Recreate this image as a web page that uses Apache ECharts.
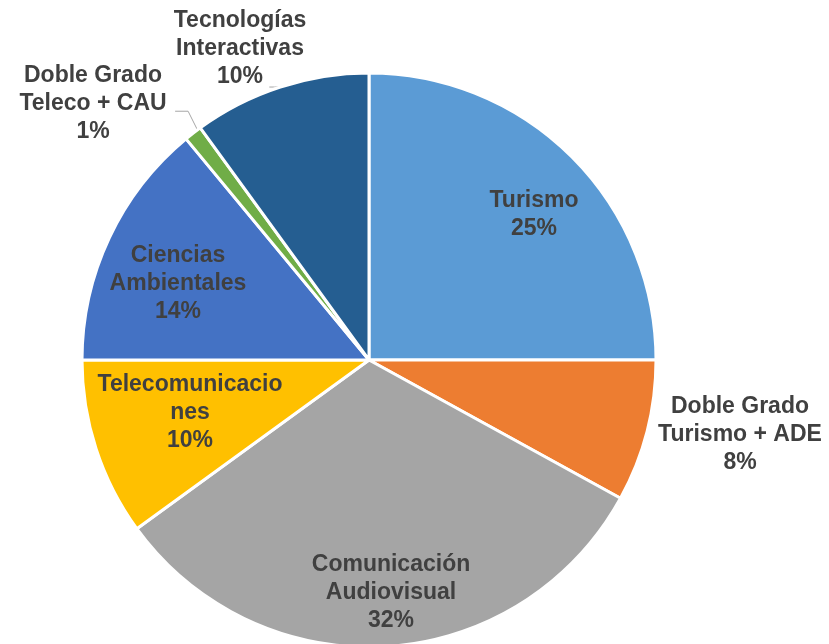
<!DOCTYPE html>
<html>
<head>
<meta charset="utf-8">
<script src="https://cdn.jsdelivr.net/npm/echarts@6/dist/echarts.min.js"></script>
<style>
  html, body { margin: 0; padding: 0; background: #fff; }
  #chart { width: 829px; height: 644px; }
</style>
</head>
<body>
<div id="chart"></div>
<script>
// categorias y valores (%)
const categories = ['Turismo', 'Doble Grado Turismo + ADE', 'Comunicación Audiovisual', 'Telecomunicaciones',
  'Ciencias Ambientales', 'Doble Grado Teleco + CAU', 'Tecnologías Interactivas'];
const values = [25, 8, 32, 10, 14, 1, 10];
// texto de las etiquetas, con los saltos de linea del original
const labelTexts = ['Turismo', 'Doble Grado\nTurismo + ADE', 'Comunicación\nAudiovisual', 'Telecomunicacio\nnes',
  'Ciencias\nAmbientales', 'Doble Grado\nTeleco + CAU', 'Tecnologías\nInteractivas'];
const colors = ['#5B9BD5', '#ED7D31', '#A5A5A5', '#FFC000', '#4472C4', '#70AD47', '#255E91'];

// posicion de cada etiqueta (centro del bloque de texto)
const labelPos = [[534, 215], [740, 435], [391, 593], [190, 413], [178, 284], [93, 104], [240, 49]];

const chart = echarts.init(document.getElementById('chart'));

const option = {
  animation: false,
  series: [{
    type: 'pie',
    center: [369, 360],
    radius: 287,
    startAngle: 90,
    clockwise: true,
    itemStyle: { borderColor: '#fff', borderWidth: 3 },
    label: {
      show: true,
      position: 'inside',
      formatter: p => labelTexts[p.dataIndex] + '\n' + Math.round(p.percent) + '%',
      color: '#404040',
      fontFamily: 'Liberation Sans, Arial, sans-serif',
      fontWeight: 'bold',
      fontSize: 23,
      lineHeight: 28,
      align: 'center',
      overflow: 'none'
    },
    labelLine: { show: false },
    labelLayout: p => {
      const i = p.dataIndex;
      const res = { x: labelPos[i][0], y: labelPos[i][1], align: 'center', verticalAlign: 'middle' };
      const pts = p.labelLinePoints;
      if (pts && i === 6) {
        // pequeño trazo horizontal a la izquierda del arco
        const a = pts[0];
        res.labelLinePoints = [a, [a[0] - 6, a[1]], [a[0] - 11, a[1]]];
      } else if (pts && i === 5) {
        const a = pts[0];
        res.labelLinePoints = [[a[0] + 4, a[1] - 4], [a[0] - 5, a[1] - 22], [a[0] - 18, a[1] - 22]];
      }
      return res;
    },
    data: categories.map((name, i) => {
      const d = { name: name, value: values[i], itemStyle: { color: colors[i] } };
      if (i === 5 || i === 6) {
        d.label = { position: 'outside', overflow: 'none', alignTo: 'none' };
        d.labelLine = { show: true, length: 12, length2: 12, lineStyle: { color: '#A6A6A6', width: 1 } };
      }
      return d;
    })
  }]
};

chart.setOption(option);
</script>
</body>
</html>
